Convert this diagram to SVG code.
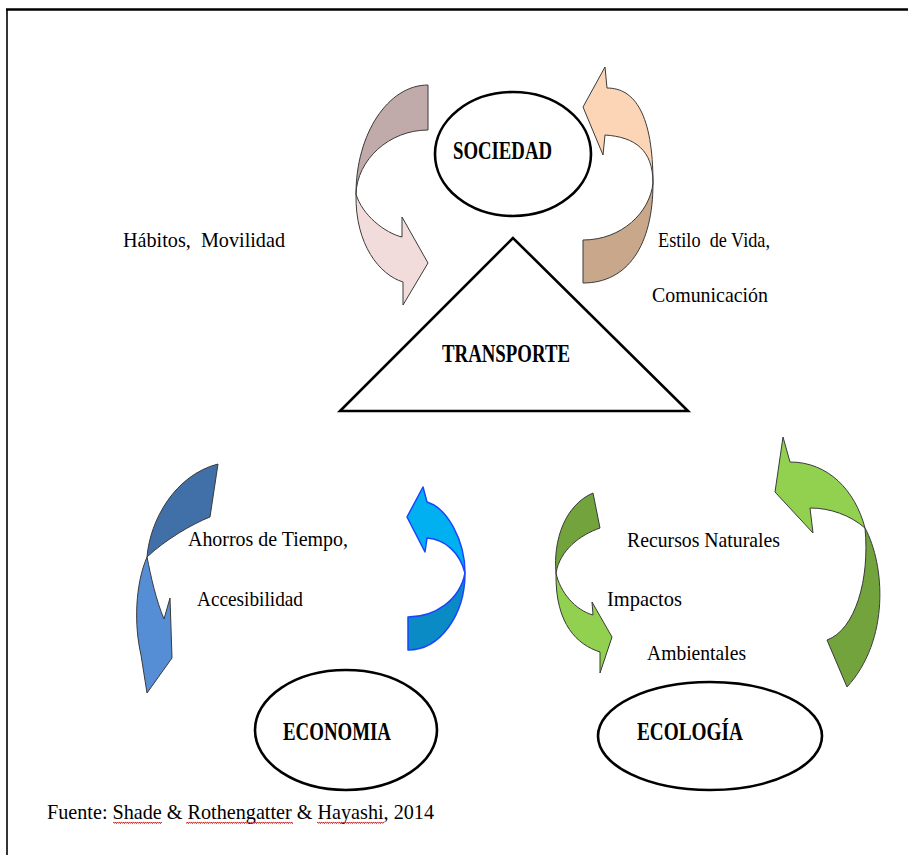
<svg xmlns="http://www.w3.org/2000/svg" width="908" height="855" viewBox="0 0 908 855">
<style>
.node{fill:#fff;stroke:#000;stroke-width:2.6}
.lbl{font-family:"Liberation Serif","Times New Roman",serif;font-size:21px;fill:#000}
.nl{font-family:"Liberation Serif","Times New Roman",serif;font-size:25px;font-weight:bold;fill:#000}
.arr{stroke:#3a3a3a;stroke-width:1;stroke-linejoin:round}
.arrb{stroke:#1a45ff;stroke-width:1.5;stroke-linejoin:round}
</style>
<defs>
<pattern id="wavy" x="0" y="821" width="4" height="4" patternUnits="userSpaceOnUse">
<path d="M0,3.2 Q1,0 2,1.6 Q3,3.4 4,0.8" fill="none" stroke="#e02020" stroke-width="1"/>
</pattern>
</defs>
<rect width="908" height="855" fill="#fff"/>
<g id="frame" fill="none" stroke="#000">
<line x1="6" y1="9.5" x2="908" y2="9.5" stroke-width="2.6"/>
<line x1="7" y1="9" x2="7" y2="855" stroke-width="1.6"/>
</g>
<g id="connectors">
<g id="arrow-sociedad-left">
<path class="arr" fill="#c0abaa" d="M428,85 C388,85 356,134 356,194 C357,160 389,130 428,130 Z"/>
<path class="arr" fill="#f2dcdb" d="M356,194 C362,215 385,233 402,237 L402,217 L428,263 L403,305 L403,282 C380,275 355,245 356,194 Z"/>
</g>
<g id="arrow-sociedad-right">
<path class="arr" fill="#c8a78a" d="M583,240 L583,283 C628,283 653,245 653,183 C650,212 622,240 583,240 Z"/>
<path class="arr" fill="#fbd5b5" d="M653,183 C653,150 635,137 605,135 L603,155 L583,107 L605,67 L607,88 C635,88 653,115 653,183 Z"/>
</g>
<g id="arrow-economia-left">
<path class="arr" fill="#4170a9" d="M218,464 L210,517 C192,524 165,540 147,557 C150,520 175,475 218,464 Z"/>
<path class="arr" fill="#558ed5" d="M147,557 C151,577 156,600 164,619 L170,598 L172,658 L147,693 L141,655 C134,625 135,585 147,557 Z"/>
</g>
<g id="arrow-economia-right">
<path class="arrb" fill="#00b0f0" d="M427,502 C447,508 465,540 465,573 C460,553 445,539 427,538 L425,552 L407,517 L423,487 Z"/>
<path class="arrb" fill="#0b8bc6" d="M465,573 C465,615 440,650 408,650 L408,617 C435,617 460,600 465,573 Z"/>
</g>
<g id="arrow-ecologia-left">
<path class="arr" fill="#72a33c" d="M593,493 L600,528 C580,535 560,550 556,573 C553,540 565,505 593,493 Z"/>
<path class="arr" fill="#92d050" d="M556,573 C560,592 575,610 593,615 L592,602 L612,637 L600,673 L600,652 C578,645 555,625 556,573 Z"/>
</g>
<g id="arrow-ecologia-right">
<path class="arr" fill="#92d050" d="M790,462 C828,462 855,490 865,528 C850,515 830,508 810,508 L813,533 L775,492 L783,437 Z"/>
<path class="arr" fill="#72a33c" d="M865,528 C885,565 890,640 847,687 L827,640 C855,630 870,580 865,528 Z"/>
</g>
</g>
<g id="sociedad">
<ellipse class="node" cx="513" cy="154" rx="78" ry="62"/>
<text class="nl" x="453" y="159" textLength="99" lengthAdjust="spacingAndGlyphs">SOCIEDAD</text>
</g>
<g id="transporte">
<polygon class="node" stroke-width="3" points="513,238 340,411 688,411"/>
<text class="nl" x="442" y="362" textLength="128" lengthAdjust="spacingAndGlyphs">TRANSPORTE</text>
</g>
<g id="economia">
<ellipse class="node" cx="346" cy="730" rx="91" ry="60"/>
<text class="nl" x="283" y="740" textLength="108" lengthAdjust="spacingAndGlyphs">ECONOMIA</text>
</g>
<g id="ecologia">
<ellipse class="node" cx="710" cy="736" rx="112" ry="54"/>
<text class="nl" x="637" y="740" textLength="106" lengthAdjust="spacingAndGlyphs">ECOLOGÍA</text>
</g>
<g id="labels">
<text class="lbl" x="123" y="247" textLength="162" lengthAdjust="spacingAndGlyphs" xml:space="preserve">Hábitos,  Movilidad</text>
<text class="lbl" x="658" y="247" textLength="112" lengthAdjust="spacingAndGlyphs" xml:space="preserve">Estilo  de Vida,</text>
<text class="lbl" x="652" y="302" textLength="116" lengthAdjust="spacingAndGlyphs">Comunicación</text>
<text class="lbl" x="188" y="546" textLength="160" lengthAdjust="spacingAndGlyphs">Ahorros de Tiempo,</text>
<text class="lbl" x="197" y="606" textLength="106" lengthAdjust="spacingAndGlyphs">Accesibilidad</text>
<text class="lbl" x="627" y="547" textLength="153" lengthAdjust="spacingAndGlyphs">Recursos Naturales</text>
<text class="lbl" x="607" y="606" textLength="75" lengthAdjust="spacingAndGlyphs">Impactos</text>
<text class="lbl" x="647" y="660" textLength="99" lengthAdjust="spacingAndGlyphs">Ambientales</text>
</g>
<g id="source">
<text class="lbl" x="47" y="819" textLength="387" lengthAdjust="spacingAndGlyphs" style="font-size:22px">Fuente: Shade &amp; Rothengatter &amp; Hayashi, 2014</text>
<rect x="113" y="821" width="49" height="4" fill="url(#wavy)"/>
<rect x="186" y="821" width="107" height="4" fill="url(#wavy)"/>
<rect x="317" y="821" width="67" height="4" fill="url(#wavy)"/>
</g>
</svg>
